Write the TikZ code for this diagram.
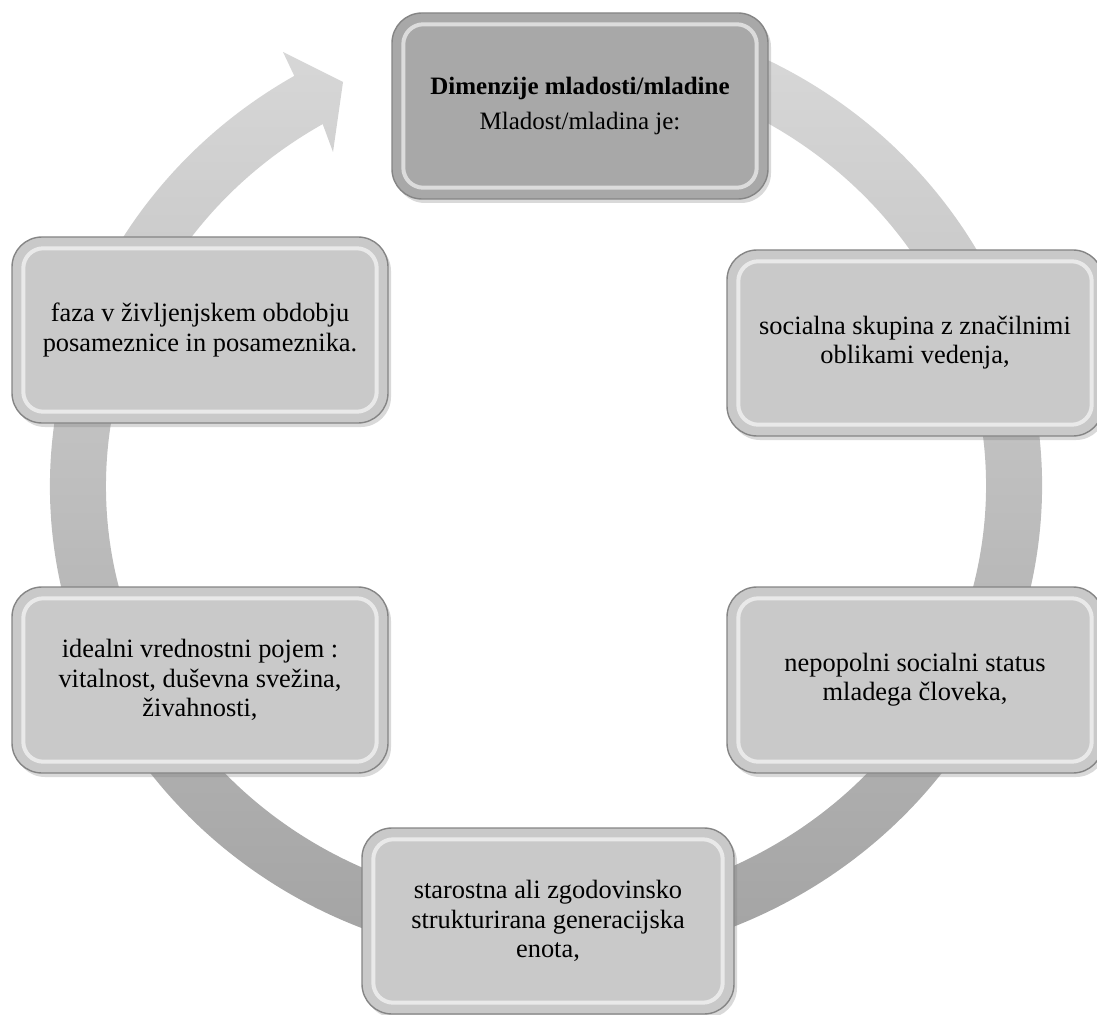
\documentclass[tikz,border=0pt]{standalone}
\usepackage{fontspec}
\setmainfont{Liberation Serif}
\usetikzlibrary{shadows}

\begin{document}
\begin{tikzpicture}[x=0.5pt, y=0.5pt,
  box/.style = {draw=black!48, line width=0.7pt, fill=black!21, rounded corners=15pt, minimum width=188pt, minimum height=93pt, align=center, font=\fontsize{13.2}{14.6}\selectfont, drop shadow={opacity=0.3, shadow xshift=1.5pt, shadow yshift=-2pt}},
  headbox/.style = {box, fill=black!34, font=\fontsize{12.5}{17.5}\selectfont},
  ring/.style = {top color=black!15, bottom color=black!37},
  bevel/.style = {draw=white, opacity=0.6, line width=2pt, rounded corners=10pt}]

\useasboundingbox (0,0) rectangle (1097,1014);
\coordinate (c) at (546,528);

% ring with head
\shade[ring] (c) ++(80:496 and 476) arc[start angle=80, end angle=-239.5, x radius=496, y radius=476]
  -- (283,962) -- (343,932) -- (333,862) -- (322.7,889.9)
  arc[start angle=-239.5, end angle=80, x radius=440, y radius=420] -- cycle;

\node[headbox] (dim) at (580,908) {\textbf{Dimenzije mladosti/mladine}\\Mladost/mladina je:};
\node[box] (soc) at (915,671) {socialna skupina z značilnimi\\oblikami vedenja,};
\node[box] (stat) at (915,334) {nepopolni socialni status\\mladega človeka,};
\node[box, minimum width=186pt] (gen) at (548,93) {starostna ali zgodovinsko\\strukturirana generacijska\\enota,};
\node[box] (ideal) at (200,334) {idealni vrednostni pojem :\\vitalnost, duševna svežina,\\živahnosti,};
\node[box] (faza) at (200,684) {faza v življenjskem obdobju\\posameznice in posameznika.};

\foreach \n in {dim,soc,stat,gen,ideal,faza}
  \draw[bevel] ([shift={(6pt,-6pt)}]\n.north west) rectangle ([shift={(-6pt,6pt)}]\n.south east);

\end{tikzpicture}
\end{document}
